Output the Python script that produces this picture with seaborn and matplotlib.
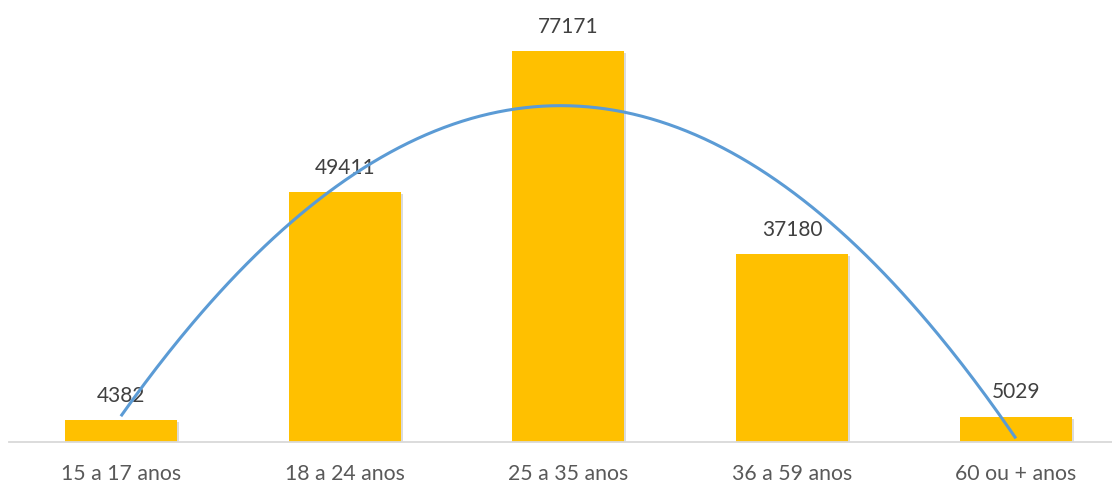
import numpy as np
import pandas as pd
import matplotlib
matplotlib.use("Agg")
import matplotlib.pyplot as plt
import matplotlib.patheffects as pe
import seaborn as sns

# Age groups and counts
categories = ["15 a 17 anos", "18 a 24 anos", "25 a 35 anos", "36 a 59 anos", "60 ou + anos"]
values = [4382, 49411, 77171, 37180, 5029]

BAR_COLOR = "#FFC000"
TREND_COLOR = "#5B9BD5"
LABEL_COLOR = "#404040"
TICK_COLOR = "#595959"
AXIS_COLOR = "#D9D9D9"

sns.set_theme(style="white")
plt.rcParams["font.family"] = ["Lato", "DejaVu Sans"]

df = pd.DataFrame({"faixa": categories, "total": values})

fig = plt.figure(figsize=(11.12, 4.83), dpi=100)
ax = fig.add_axes([9 / 1112, 41 / 483, 1 - 9 / 1112, 1 - 41 / 483])

sns.barplot(data=df, x="faixa", y="total", color=BAR_COLOR, saturation=1,
            width=0.5, linewidth=0, ax=ax)

# soft drop shadow under the bars
for patch in ax.patches:
    patch.set_edgecolor("none")
    patch.set_path_effects([
        pe.SimplePatchShadow(offset=(1.5, -1.5), shadow_rgbFace="#9a9a9a", alpha=0.35),
        pe.Normal(),
    ])

# value labels above each bar
for i, v in enumerate(values):
    ax.annotate(str(v), xy=(i, v), xytext=(0, 13), textcoords="offset points",
                ha="center", va="baseline", fontsize=15, color=LABEL_COLOR)

# second-order polynomial trendline over the bars
xpos = np.arange(len(values))
coef = np.polyfit(xpos, values, 2)
xs = np.linspace(xpos[0], xpos[-1], 300)
ax.plot(xs, np.polyval(coef, xs), color=TREND_COLOR, linewidth=2.2,
        solid_capstyle="butt", zorder=5)

ax.set_xlim(-0.5, -0.5 + (1112 - 9) / 223.75)
ax.set_ylim(0, 77171 * 442 / 391)

for side in ["top", "right", "left"]:
    ax.spines[side].set_visible(False)
ax.spines["bottom"].set_color(AXIS_COLOR)
ax.spines["bottom"].set_linewidth(1.3)

ax.set_yticks([])
ax.set_xlabel("")
ax.set_ylabel("")
ax.tick_params(axis="x", length=0, pad=16, labelsize=15.3, labelcolor=TICK_COLOR)

fig.savefig("out.png", dpi=100)
